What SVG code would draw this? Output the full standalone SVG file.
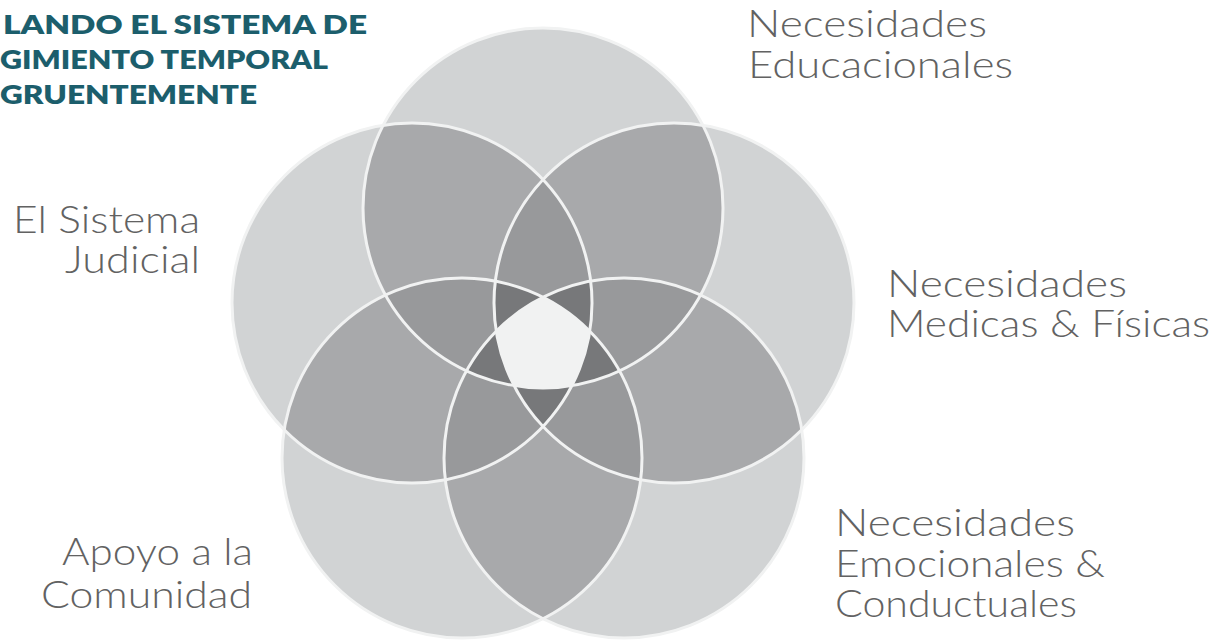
<svg xmlns="http://www.w3.org/2000/svg" width="1221" height="641" viewBox="0 0 1221 641">
<style>
.l{font-family:Lato,"Open Sans","Liberation Sans",sans-serif;font-weight:300;font-size:37px;fill:#626262}
.t{font-family:Lato,"Open Sans","Liberation Sans",sans-serif;font-weight:800;font-size:26px;fill:#1c5e6c}
.s1{fill:#d1d3d4}.s2{fill:#a8a9ab}.s3{fill:#98999b}.s4{fill:#77787a}.s5{fill:#f1f2f2}
.ring{fill:none;stroke:#f1f2f2;stroke-width:3}
</style>
<defs>
<circle id="k0" cx="543" cy="208" r="180"/>
<circle id="k1" cx="674" cy="303" r="180"/>
<circle id="k2" cx="624" cy="458" r="180"/>
<circle id="k3" cx="462" cy="458" r="180"/>
<circle id="k4" cx="412" cy="303" r="180"/>
<clipPath id="c0"><use href="#k0"/></clipPath>
<clipPath id="c1"><use href="#k1"/></clipPath>
<clipPath id="c2"><use href="#k2"/></clipPath>
<clipPath id="c3"><use href="#k3"/></clipPath>
<clipPath id="c4"><use href="#k4"/></clipPath>
</defs>
<rect width="1221" height="641" fill="#ffffff"/>
<g id="venn">
<g id="single" class="s1">
<use href="#k0"/><use href="#k1"/><use href="#k2"/><use href="#k3"/><use href="#k4"/>
</g>
<g id="double" class="s2">
<g clip-path="url(#c0)"><use href="#k1"/><use href="#k2"/><use href="#k3"/><use href="#k4"/></g>
<g clip-path="url(#c1)"><use href="#k2"/><use href="#k3"/><use href="#k4"/></g>
<g clip-path="url(#c2)"><use href="#k3"/><use href="#k4"/></g>
<g clip-path="url(#c3)"><use href="#k4"/></g>
</g>
<g id="triple" class="s3">
<g clip-path="url(#c0)"><g clip-path="url(#c1)"><use href="#k2"/><use href="#k3"/><use href="#k4"/></g></g>
<g clip-path="url(#c0)"><g clip-path="url(#c2)"><use href="#k3"/><use href="#k4"/></g></g>
<g clip-path="url(#c0)"><g clip-path="url(#c3)"><use href="#k4"/></g></g>
<g clip-path="url(#c1)"><g clip-path="url(#c2)"><use href="#k3"/><use href="#k4"/></g></g>
<g clip-path="url(#c1)"><g clip-path="url(#c3)"><use href="#k4"/></g></g>
<g clip-path="url(#c2)"><g clip-path="url(#c3)"><use href="#k4"/></g></g>
</g>
<g id="quad" class="s4">
<g clip-path="url(#c0)"><g clip-path="url(#c1)"><g clip-path="url(#c2)"><use href="#k3"/><use href="#k4"/></g></g></g>
<g clip-path="url(#c0)"><g clip-path="url(#c1)"><g clip-path="url(#c3)"><use href="#k4"/></g></g></g>
<g clip-path="url(#c0)"><g clip-path="url(#c2)"><g clip-path="url(#c3)"><use href="#k4"/></g></g></g>
<g clip-path="url(#c1)"><g clip-path="url(#c2)"><g clip-path="url(#c3)"><use href="#k4"/></g></g></g>
</g>
<g id="center" class="s5">
<g clip-path="url(#c0)"><g clip-path="url(#c1)"><g clip-path="url(#c2)"><g clip-path="url(#c3)"><use href="#k4"/></g></g></g></g>
</g>
<g id="rings" class="ring">
<use href="#k0"/><use href="#k1"/><use href="#k2"/><use href="#k3"/><use href="#k4"/>
</g>
</g>
<g id="title" class="t">
<text x="3" y="34" textLength="364" lengthAdjust="spacingAndGlyphs">LANDO EL SISTEMA DE</text>
<text x="0" y="69" textLength="328" lengthAdjust="spacingAndGlyphs">GIMIENTO TEMPORAL</text>
<text x="0" y="104" textLength="257" lengthAdjust="spacingAndGlyphs">GRUENTEMENTE</text>
</g>
<g id="label-educacionales" class="l">
<text x="747" y="37" textLength="240" lengthAdjust="spacingAndGlyphs">Necesidades</text>
<text x="748" y="78" textLength="265" lengthAdjust="spacingAndGlyphs">Educacionales</text>
</g>
<g id="label-medicas" class="l">
<text x="887" y="297" textLength="240" lengthAdjust="spacingAndGlyphs">Necesidades</text>
<text x="887" y="337" textLength="323" lengthAdjust="spacingAndGlyphs">Medicas &amp; Físicas</text>
</g>
<g id="label-emocionales" class="l">
<text x="835" y="536" textLength="240" lengthAdjust="spacingAndGlyphs">Necesidades</text>
<text x="835" y="577" textLength="270" lengthAdjust="spacingAndGlyphs">Emocionales &amp;</text>
<text x="835" y="617" textLength="242" lengthAdjust="spacingAndGlyphs">Conductuales</text>
</g>
<g id="label-comunidad" class="l">
<text x="62" y="565" textLength="191" lengthAdjust="spacingAndGlyphs">Apoyo a la</text>
<text x="41" y="608" textLength="211" lengthAdjust="spacingAndGlyphs">Comunidad</text>
</g>
<g id="label-judicial" class="l">
<text x="13" y="233" textLength="187" lengthAdjust="spacingAndGlyphs">El Sistema</text>
<text x="65" y="273" textLength="135" lengthAdjust="spacingAndGlyphs">Judicial</text>
</g>
</svg>
